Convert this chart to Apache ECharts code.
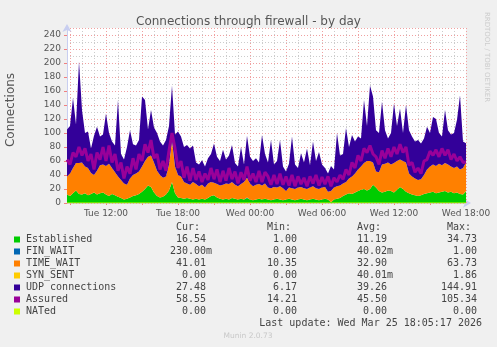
<!DOCTYPE html>
<html><head><meta charset="utf-8">
<script src="https://cdn.jsdelivr.net/npm/echarts@6/dist/echarts.min.js"></script>
<style>html,body{margin:0;padding:0;background:#F0F0F0;}#c{width:497px;height:347px;}</style>
</head><body><div id="c"></div>
<script>
// ---- time axis (Tue 08:45 onwards, 15 min samples) ----
const startMinutes = 8 * 60 + 45;
const stepMinutes = 15;
const dayNames = ['Tue', 'Wed'];
const xTickLabels = ['Tue 12:00', 'Tue 18:00', 'Wed 00:00', 'Wed 06:00', 'Wed 12:00', 'Wed 18:00'];

// ---- series values ----
const established = [
 12,10,14,18,13,12,14,11,13,15,
 12,14,15,12,10,13,11,9,7,5,
 6,8,10,11,13,16,20,25,23,15,
 10,8,9,12,18,30,14,8,7,6,
 7,6,5,6,5,6,5,7,10,11,
 8,6,5,6,5,7,6,5,6,5,
 7,5,4,5,6,5,6,5,4,5,
 6,5,4,5,6,5,4,5,6,5,
 4,5,6,5,4,5,6,5,1,5,
 6,7,10,12,14,13,15,17,19,20,
 18,20,26,22,17,15,16,18,17,15,
 19,23,20,16,14,12,11,10,11,13,
 14,15,16,14,15,16,17,15,16,14,
 15,13,12,16.54];
const finWait = [
 0,0,0,0,0,0,0,0,0,0, 0,0,0,0,0,0,0,0,0,0,
 0,0,0,0,0,0,0,0,0,0, 0,0,0,0,0,0,0,0,0,0,
 0,0,0,0,0,0,0,0,0,0, 0,0,0,0,0,0,0,0,0,0,
 1,0,0,0,0,0,0,0,0,0, 0,0,0,0,0,0,0,0,0,0,
 0,0,0,0,0,0,0,0,0,0, 0,0,0,0,0,0,0,0,0,0,
 0,0,0,0,0,0,0,0,0,0, 0,0,0,0,0,0,0,0,0,0,
 0,0,0,0,0,0,0,0,0,0, 0,0,0,0.23];
const timeWait = [
 26,32,36,39,44,46,38,39,30,25,
 34,40,40,41,46,37,33,29,26,23,
 20,27,30,31,32,36,40,41,45,43,
 36,32,27,26,37,58,38,32,31,24,
 21,20,25,21,19,20,17,21,20,18,
 19,19,21,22,22,23,20,19,21,25,
 28,23,20,21,21,20,22,17,17,18,
 16,19,17,12,16,16,16,17,17,16,
 16,17,18,16,16,17,17,11,16,17,
 18,18,18,18,21,25,27,31,33,37,
 42,40,32,23,27,40,40,40,38,42,
 41,39,40,42,28,26,24,23,23,27,
 34,37,39,39,41,38,40,40,36,36,
 37,35,38,41.01];
const synSent = [
 0,0,0,0,0,0,0,0,0,0, 0,0,0,0,0,0,0,0,0,0,
 0,0,0,0,0,0,0,0,0,0, 0,0,0,0,0,1.86,0,0,0,0,
 0,0,0,0,0,0,0,0,0,0, 0,0,0,0,0,0,0,0,0,0,
 0,0,0,0,0,0,0,0,0,0, 0,0,0,0,0,0,0,0,0,0,
 0,0,0,0,0,0,0,0,0,0, 0,0,0,0,0,0,0,0,0,0,
 0,0,0,0,0,0,0,0,0,0, 0,0,0,0,0,0,0,0,0,0,
 0,0,0,0,0,0,0,0,0,0, 0,0,0,0];
const udp = [
 67,68,100,55,145,75,48,52,35,56,
 63,41,43,75,44,38,38,109,37,34,
 54,69,44,40,45,100,87,39,65,50,
 54,48,46,52,55,78,46,62,57,50,
 55,52,52,31,31,35,30,36,40,56,
 39,35,50,34,41,53,31,28,53,25,
 60,38,36,38,31,72,42,36,69,32,
 38,66,31,28,34,74,35,28,48,37,
 58,32,64,39,53,33,27,26,36,26,
 76,43,42,77,45,59,46,47,40,90,
 50,108,94,59,56,90,48,34,45,85,
 50,73,40,82,62,57,53,57,51,52,
 61,48,68,67,44,41,76,49,46,50,
 67,106,38,27.48];
const assured = [
 62,55,72,66,80,68,78,60,70,48,
 72,62,80,60,82,58,70,46,58,35,
 52,42,64,48,70,60,84,72,90,64,
 70,48,60,46,75,100,78,50,60,36,
 52,32,50,33,45,30,42,33,50,34,
 48,30,46,32,50,34,45,28,44,33,
 52,32,42,30,46,30,44,38,26,40,
 27,42,26,38,25,40,24,38,27,36,
 24,38,28,40,25,37,27,38,24,36,
 30,40,34,48,40,58,50,68,60,78,
 72,82,70,66,55,75,64,78,66,80,
 70,84,72,80,54,58,44,50,42,60,
 62,74,68,76,66,78,68,76,62,70,
 60,66,58,58.55];
const nated = [
 0,0,0,0,0,0,0,0,0,0, 0,0,0,0,0,0,0,0,0,0,
 0,0,0,0,0,0,0,0,0,0, 0,0,0,0,0,0,0,0,0,0,
 0,0,0,0,0,0,0,0,0,0, 0,0,0,0,0,0,0,0,0,0,
 0,0,0,0,0,0,0,0,0,0, 0,0,0,0,0,0,0,0,0,0,
 0,0,0,0,0,0,0,0,0,0, 0,0,0,0,0,0,0,0,0,0,
 0,0,0,0,0,0,0,0,0,0, 0,0,0,0,0,0,0,0,0,0,
 0,0,0,0,0,0,0,0,0,0, 0,0,0,0];

// ---- legend table ----
const seriesNames = ['Established', 'FIN_WAIT', 'TIME_WAIT', 'SYN_SENT', 'UDP connections', 'Assured', 'NATed'];
const curValues = ['16.54', '230.00m', '41.01', '0.00', '27.48', '58.55', '0.00'];
const minValues = ['1.00', '0.00', '10.35', '0.00', '6.17', '14.21', '0.00'];
const avgValues = ['11.19', '40.02m', '32.90', '40.01m', '39.26', '45.50', '0.00'];
const maxValues = ['34.73', '1.00', '63.73', '1.86', '144.91', '105.34', '0.00'];
const columnHeaders = ['Cur:', 'Min:', 'Avg:', 'Max:'];
const titleText = 'Connections through firewall - by day';
const yAxisTitle = 'Connections';
const lastUpdate = 'Last update: Wed Mar 25 18:05:17 2026';
const footer = 'Munin 2.0.73';
const sideText = 'RRDTOOL / TOBI OETIKER';

// ---- styles ----
const seriesColors = ['#00CC00', '#0066B3', '#FF8000', '#FFCC00', '#330099', '#990099', '#CCFF00'];
const textColor = '#555';

function pad(v) { return (v < 10 ? '0' : '') + v; }
const categories = established.map((_, i) => {
  const m = startMinutes + i * stepMinutes;
  return dayNames[Math.floor(m / 1440)] + ' ' + pad(Math.floor((m % 1440) / 60)) + ':' + pad(m % 60);
});
function minuteOf(i) { return startMinutes + i * stepMinutes; }

const chart = echarts.init(document.getElementById('c'), null, { renderer: 'canvas' });

function areaSeries(name, data, color) {
  return {
    name, type: 'line', data, stack: 'total', symbol: 'none', z: 2,
    lineStyle: { width: 0 }, areaStyle: { color, opacity: 1 }, itemStyle: { color }
  };
}

const mono = '"DejaVu Sans Mono", monospace';
const graphics = [];
const rowY0 = 239.5, rowStep = 12;
const colEnds = [206, 297, 387, 477];
columnHeaders.forEach((h, k) => {
  graphics.push({ type: 'text', x: colEnds[k] - 6, y: 227, style: { text: h, font: '10px ' + mono, fill: '#444', align: 'right', verticalAlign: 'middle' } });
});
const cols = [curValues, minValues, avgValues, maxValues];
seriesNames.forEach((nm, r) => {
  const y = rowY0 + r * rowStep;
  graphics.push({ type: 'rect', shape: { x: 14, y: y - 3, width: 6, height: 6 }, style: { fill: seriesColors[r] } });
  graphics.push({ type: 'text', x: 26, y, style: { text: nm, font: '10px ' + mono, fill: '#444', align: 'left', verticalAlign: 'middle' } });
  cols.forEach((col, k) => {
    let s = col[r], suf = '';
    if (/[a-z]$/.test(s)) { suf = s.slice(-1); s = s.slice(0, -1); }
    graphics.push({ type: 'text', x: colEnds[k], y, style: { text: s, font: '10px ' + mono, fill: '#444', align: 'right', verticalAlign: 'middle' } });
    if (suf) graphics.push({ type: 'text', x: colEnds[k], y, style: { text: suf, font: '10px ' + mono, fill: '#444', align: 'left', verticalAlign: 'middle' } });
  });
});
graphics.push({ type: 'text', x: 482, y: 323, style: { text: lastUpdate, font: '10px ' + mono, fill: '#444', align: 'right', verticalAlign: 'middle' } });
graphics.push({ type: 'text', x: 248, y: 336, style: { text: footer, font: '7.5px "DejaVu Sans"', fill: '#c8c8c8', align: 'center', verticalAlign: 'middle' } });
graphics.push({ type: 'text', x: 11, y: 110, rotation: Math.PI / 2, style: { text: yAxisTitle, font: '12px "DejaVu Sans"', fill: textColor, align: 'center', verticalAlign: 'middle' } });
graphics.push({ type: 'text', x: 487, y: 57, rotation: -Math.PI / 2, style: { text: sideText, font: '7px "DejaVu Sans"', fill: '#cccccc', align: 'center', verticalAlign: 'middle' } });

chart.setOption({
  animation: false,
  backgroundColor: '#F0F0F0',
  title: { text: titleText, left: 'center', top: 11, textStyle: { fontFamily: 'DejaVu Sans', fontSize: 12, fontWeight: 'normal', color: textColor } },
  grid: { left: 67, right: 31, top: 28, bottom: 144, show: true, backgroundColor: '#FFFFFF', borderWidth: 0 },
  xAxis: [
    {
      type: 'category', data: categories, boundaryGap: false, z: 0,
      axisLine: { show: true, lineStyle: { color: '#C8CEF0', width: 1 }, symbol: ['none', 'arrow'], symbolSize: [7, 8], symbolOffset: [0, 5] },
      axisTick: { show: true, length: 2, inside: false, lineStyle: { color: '#F08080' }, interval: (i) => minuteOf(i) % 180 === 0 },
      axisLabel: { interval: (i, v) => xTickLabels.indexOf(v) >= 0, color: textColor, fontFamily: 'DejaVu Sans', fontSize: 9, margin: 6 },
      splitLine: { show: true, interval: (i) => minuteOf(i) % 60 === 0 && minuteOf(i) % 180 !== 0, lineStyle: { color: '#CCCCCC', type: [1, 2], width: 1 } }
    },
    {
      type: 'category', data: categories, boundaryGap: false, z: 1, position: 'bottom',
      axisLine: { show: false }, axisTick: { show: false }, axisLabel: { show: false },
      splitLine: { show: true, interval: (i) => minuteOf(i) % 180 === 0, lineStyle: { color: '#F0A0A0', type: [1, 2], width: 1 } }
    }
  ],
  yAxis: [
    {
      type: 'value', min: 0, max: 250, interval: 20, z: 1,
      axisLine: { show: true, lineStyle: { color: '#C8CEF0' }, symbol: ['none', 'arrow'], symbolSize: [7, 8], symbolOffset: [0, 4] },
      axisTick: { show: true, length: 3, lineStyle: { color: '#F08080' } },
      axisLabel: { color: textColor, fontFamily: 'DejaVu Sans', fontSize: 9, margin: 6, showMaxLabel: false },
      splitLine: { show: true, lineStyle: { color: '#F0A0A0', type: [1, 2], width: 1 } }
    },
    {
      type: 'value', min: 0, max: 250, interval: 10, z: 0,
      axisLine: { show: false }, axisTick: { show: false }, axisLabel: { show: false },
      splitLine: { show: true, lineStyle: { color: '#CCCCCC', type: [1, 2], width: 1 } }
    }
  ],
  series: [
    areaSeries(seriesNames[0], established, seriesColors[0]),
    areaSeries(seriesNames[1], finWait, seriesColors[1]),
    areaSeries(seriesNames[2], timeWait, seriesColors[2]),
    areaSeries(seriesNames[3], synSent, seriesColors[3]),
    areaSeries(seriesNames[4], udp, seriesColors[4]),
    { name: seriesNames[5], type: 'line', data: assured, symbol: 'none', z: 3, lineStyle: { width: 3, color: seriesColors[5] } },
    { name: seriesNames[6], type: 'line', data: nated, symbol: 'none', z: 3, lineStyle: { width: 1, color: seriesColors[6] } }
  ],
  graphic: graphics
});
</script></body></html>
